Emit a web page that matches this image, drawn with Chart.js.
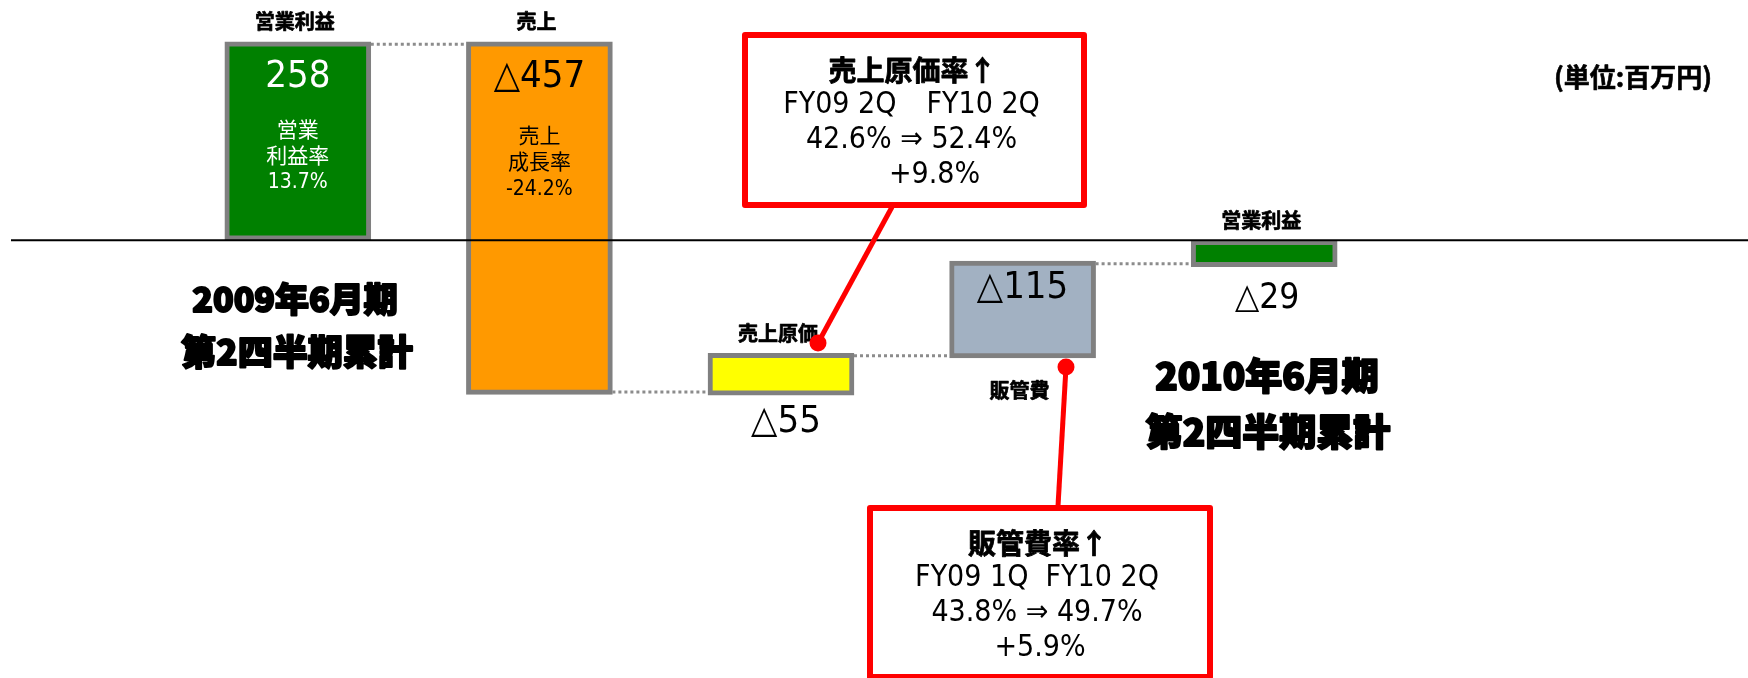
<!DOCTYPE html>
<html>
<head>
<meta charset="utf-8">
<script src="https://cdn.jsdelivr.net/npm/chart.js@4.4.1/dist/chart.umd.min.js"></script>
<style>
  html, body { margin: 0; padding: 0; background: #fff; }
  canvas { display: block; }
</style>
</head>
<body>
<canvas id="myChart" width="1748" height="678"></canvas>
<script>
// waterfall: 2009/6 Q2 operating profit -> 2010/6 Q2 operating profit (百万円)
const categories = ['営業利益', '売上', '売上原価', '販管費', '営業利益'];
const barStart = [0, 256, -200, -152, 0];
const barEnd = [256, -199, -146, -27, -34];
const valueLabels = ['258', '△457', '△55', '△115', '△29'];
const rateLabels = [['営業', '利益率', '13.7%'], ['売上', '成長率', '-24.2%'], [], [], []];
const periodLabels = [['2009年6月期', '第2四半期累計'], ['2010年6月期', '第2四半期累計']];
const costNote = ['売上原価率↑', 'FY09 2Q　FY10 2Q', '42.6% ⇒ 52.4%', '+9.8%'];
const sgaNote = ['販管費率↑', 'FY09 1Q  FY10 2Q', '43.8% ⇒ 49.7%', '+5.9%'];
const unitLabel = '(単位:百万円)';

const barColors = ['#008000', '#ff9900', '#ffff00', '#a2b1c2', '#008000'];
const LATIN = "'DejaVu Sans Condensed', 'DejaVu Sans', 'Noto Sans CJK JP', sans-serif";
const JP = "'Noto Sans CJK JP', sans-serif";

function txt(ctx, s, x, y, font, color, heavy) {
  ctx.font = font;
  ctx.fillStyle = color || '#000';
  ctx.textAlign = 'center';
  ctx.textBaseline = 'middle';
  ctx.fillText(s, x, y);
  if (heavy) {
    ctx.strokeStyle = color || '#000';
    ctx.lineWidth = heavy;
    ctx.lineJoin = 'round';
    ctx.strokeText(s, x, y);
  }
}

function topOf(el) { return Math.min(el.y, el.base); }
function bottomOf(el) { return Math.max(el.y, el.base); }

function callout(ctx, box, lines, dot, foot, lastShift) {
  ctx.save();
  ctx.strokeStyle = '#ff0000';
  ctx.lineWidth = 5;
  ctx.beginPath();
  ctx.moveTo(foot[0], foot[1]);
  ctx.lineTo(dot[0], dot[1]);
  ctx.stroke();
  ctx.fillStyle = '#ff0000';
  ctx.beginPath();
  ctx.arc(dot[0], dot[1], 8.5, 0, Math.PI * 2);
  ctx.fill();
  ctx.fillStyle = '#fff';
  ctx.fillRect(box.x, box.y, box.w, box.h);
  ctx.lineWidth = 6;
  ctx.strokeRect(box.x + 3, box.y + 3, box.w - 6, box.h - 6);
  let cx = box.x + box.w / 2;
  txt(ctx, lines[0], cx - 2, box.y + 38, '700 28px ' + JP, '#000', 0.8);
  txt(ctx, lines[1], cx - 3, box.y + 73, '30px ' + LATIN);
  txt(ctx, lines[2], cx - 3, box.y + 108, '30px ' + LATIN);
  txt(ctx, lines[3], cx + lastShift, box.y + 143, '30px ' + LATIN);
  ctx.restore();
}

const overlay = {
  id: 'overlay',
  afterDatasetsDraw(chart) {
    const ctx = chart.ctx;
    const els = chart.getDatasetMeta(0).data;
    const y0 = chart.scales.y.getPixelForValue(0);
    ctx.save();

    // dotted connectors between bars
    ctx.strokeStyle = '#8c8c8c';
    ctx.lineWidth = 3;
    ctx.setLineDash([3, 3]);
    for (let i = 0; i < els.length - 1; i++) {
      let a = els[i], b = els[i + 1];
      let yEnd = chart.scales.y.getPixelForValue(barEnd[i]);
      let yStart = chart.scales.y.getPixelForValue(barStart[i]);
      let y = yEnd + (yStart > yEnd ? 2.5 : -2.5);
      ctx.beginPath();
      ctx.moveTo(a.x + a.width / 2, y);
      ctx.lineTo(b.x - b.width / 2, y);
      ctx.stroke();
    }
    ctx.setLineDash([]);

    // zero line
    ctx.strokeStyle = '#000';
    ctx.lineWidth = 2;
    ctx.beginPath();
    ctx.moveTo(11, y0);
    ctx.lineTo(1748, y0);
    ctx.stroke();

    // category names
    els.forEach(function(el, i) {
      let y = (i == 3) ? bottomOf(el) + 32 : topOf(el) - 20;
      txt(ctx, categories[i], el.x - 3, y, '700 20px ' + JP, '#000', 0.7);
    });

    // values and rates
    let g = els[0], o = els[1], yl = els[2], gr = els[3], f = els[4];
    txt(ctx, valueLabels[0], g.x, topOf(g) + 35, '38px ' + LATIN, '#fff');
    rateLabels[0].forEach(function(s, k) {
      txt(ctx, s, g.x, topOf(g) + 90 + k * 25.5, '21px ' + LATIN, '#fff');
    });
    txt(ctx, valueLabels[1], o.x, topOf(o) + 35, '38px ' + LATIN);
    rateLabels[1].forEach(function(s, k) {
      txt(ctx, s, o.x, topOf(o) + 96 + k * 26, '21px ' + LATIN);
    });
    txt(ctx, valueLabels[2], yl.x + 5, bottomOf(yl) + 27, '38px ' + LATIN);
    txt(ctx, valueLabels[3], gr.x, topOf(gr) + 27, '38px ' + LATIN);
    txt(ctx, valueLabels[4], f.x + 3, bottomOf(f) + 32, '35px ' + LATIN);

    // period titles
    txt(ctx, periodLabels[0][0], 295, 299, '900 34px ' + JP, '#000', 2);
    txt(ctx, periodLabels[0][1], 297, 352, '900 35px ' + JP, '#000', 2);
    txt(ctx, periodLabels[1][0], 1267, 376, '900 37px ' + JP, '#000', 2);
    txt(ctx, periodLabels[1][1], 1268, 432, '900 37px ' + JP, '#000', 2);

    // unit
    txt(ctx, unitLabel, 1633, 77, '700 26px ' + JP, '#000', 0.6);

    // callouts
    callout(ctx, {x: 742, y: 32, w: 345, h: 176}, costNote, [818, 343], [892, 207], 20);
    callout(ctx, {x: 867, y: 505, w: 346, h: 175}, sgaNote, [1066, 367], [1058, 506], 0);
    ctx.restore();
  }
};

const ctx = document.getElementById('myChart');
new Chart(ctx, {
  type: 'bar',
  data: {
    labels: categories,
    datasets: [{
      data: barStart.map(function(s, i) { return [s, barEnd[i]]; }),
      backgroundColor: barColors,
      borderColor: '#808080',
      borderWidth: 5,
      borderSkipped: false,
      barThickness: 146
    }]
  },
  options: {
    responsive: false,
    animation: false,
    layout: { padding: { left: 177, right: 363, top: 0, bottom: 0 } },
    plugins: { legend: { display: false }, tooltip: { enabled: false } },
    scales: {
      x: { display: false },
      y: { display: false, min: -565, max: 310 }
    }
  },
  plugins: [overlay]
});
</script>
</body>
</html>
